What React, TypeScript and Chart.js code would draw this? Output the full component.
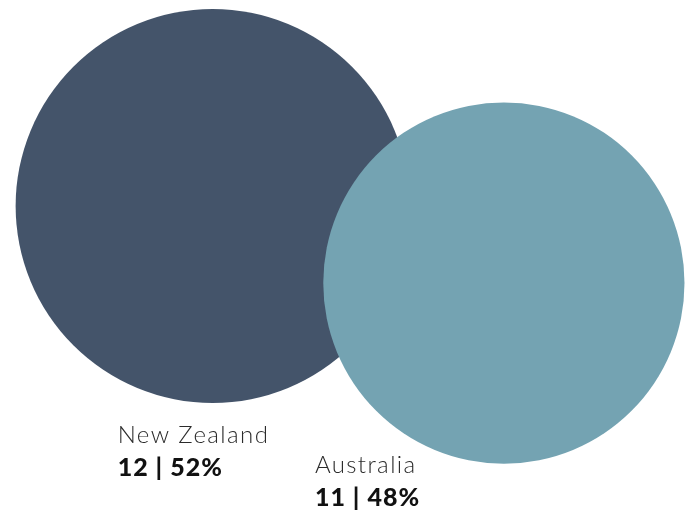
import React, { useEffect, useRef } from "react";
import { Chart, registerables } from "chart.js";

Chart.register(...registerables);

const categories = ["New Zealand", "Australia"];
const counts = [12, 11];
const shares = ["52%", "48%"];
const xPositions = [30.6, 72.5];
const yPositions = [59.6, 44.5];
const colors = ["#44546A", "#74A3B2"];

const RADIUS_PER_UNIT = 16.42;
const labelOffsets = [
  { dx: -95, dy: 237 },
  { dx: -189, dy: 190 },
];

const labelPlugin = {
  id: "bubbleLabels",
  afterDatasetsDraw(chart: any) {
    const ctx = chart.ctx;
    chart.data.datasets.forEach((ds: any, i: number) => {
      const meta = chart.getDatasetMeta(i);
      const el = meta.data[0];
      if (!el) return;
      const off = labelOffsets[i];
      const x = el.x + off.dx;
      const y = el.y + off.dy;
      ctx.save();
      ctx.textAlign = "left";
      ctx.textBaseline = "alphabetic";
      ctx.fillStyle = "#2b2b2b";
      ctx.font = "300 24px Lato";
      (ctx as any).letterSpacing = "1.4px";
      ctx.fillText(categories[i], x, y);
      ctx.fillStyle = "#111111";
      ctx.font = "900 25px Lato";
      (ctx as any).letterSpacing = "1px";
      ctx.fillText(`${counts[i]} | ${shares[i]}`, x, y + 33);
      ctx.restore();
    });
  },
};

export default function App() {
  const ref = useRef<HTMLCanvasElement>(null);
  useEffect(() => {
    document.body.style.margin = "0";
    const chart = new Chart(ref.current!, {
      type: "bubble",
      data: {
        datasets: categories.map((c, i) => ({
          label: c,
          data: [{ x: xPositions[i], y: yPositions[i], r: counts[i] * RADIUS_PER_UNIT }],
          backgroundColor: colors[i],
          borderWidth: 0,
          hoverBorderWidth: 0,
          clip: false,
          order: categories.length - i,
        })),
      },
      options: {
        responsive: false,
        animation: false,
        layout: { padding: 0, autoPadding: false },
        events: [],
        scales: {
          x: { display: false, min: 0, max: 100 },
          y: { display: false, min: 0, max: 100 },
        },
        plugins: {
          legend: { display: false },
          tooltip: { enabled: false },
        },
      },
      plugins: [labelPlugin],
    });
    return () => chart.destroy();
  }, []);
  return (
    <div style={{ width: 695, height: 510 }}>
      <canvas ref={ref} width={695} height={510} />
    </div>
  );
}
